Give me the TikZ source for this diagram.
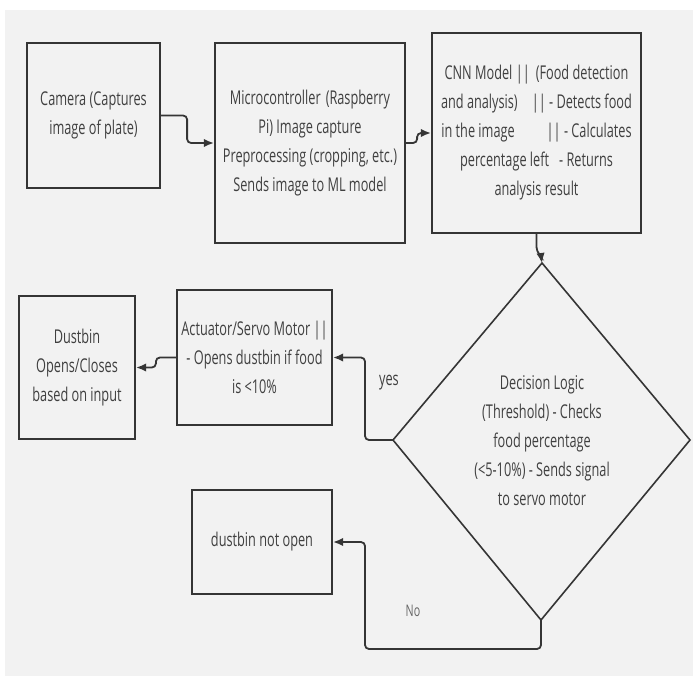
\documentclass[tikz,border=0pt]{standalone}
\usepackage{fontspec}
\setmainfont{Open Sans}[FakeStretch=0.67]
\usetikzlibrary{arrows.meta}
\definecolor{bgc}{HTML}{F2F2F2}
\definecolor{linec}{HTML}{353535}
\definecolor{txtc}{HTML}{404040}
\definecolor{lblc}{HTML}{666666}
\tikzset{
  box/.style={draw=linec, line width=2.2pt, fill=bgc, inner sep=0pt, align=center,
    text=txtc, font=\fontsize{19}{29}\selectfont},
  conn/.style={draw=linec, line width=1.8pt, rounded corners=4pt,
    -{Latex[length=10pt,width=8.5pt]}},
  lbl/.style={text=txtc, font=\fontsize{19}{29}\selectfont, inner sep=0pt},
  dtext/.style={text=txtc, font=\fontsize{19}{29}\selectfont, align=center, inner sep=0pt}
}
\begin{document}
\begin{tikzpicture}[x=1pt,y=-1pt]
\useasboundingbox (0,0) rectangle (693,678);
\fill[white] (0,0) rectangle (693,678);
\fill[bgc] (5,10) rectangle (693,676);

% boxes
\node[box, minimum width=133pt, minimum height=145pt] (cam) at (93.5,115.5)
  {Camera (Captures\\image of plate)};
\node[box, minimum width=190pt, minimum height=200pt] (mc) at (310,143)
  {Microcontroller\hspace{5pt}(Raspberry\\Pi) Image capture\hspace{44pt}\\Preprocessing (cropping, etc.)\\Sends image to ML model};
\node[box, minimum width=209pt, minimum height=200pt] (cnn) at (536.5,133)
  {CNN Model ||\hspace{6pt}(Food detection\\and analysis)\hspace{14pt}|| - Detects food\\in the image\hspace{32pt}|| - Calculates\\percentage left\hspace{10pt}- Returns\\analysis result};
\node[box, minimum width=155pt, minimum height=135pt] (act) at (254.5,357.5)
  {Actuator/Servo Motor ||\\- Opens dustbin if food\\is <10\%};
\node[box, minimum width=116pt, minimum height=143pt] (dust) at (77,367.5)
  {Dustbin\\Opens/Closes\\based on input};
\node[box, minimum width=140pt, minimum height=104pt] (no) at (262,542)
  {dustbin not open};

% decision diamond
\coordinate (dt) at (542,263);
\coordinate (dl) at (393,440);
\coordinate (dr) at (690,440);
\coordinate (db) at (541,620);
\draw[linec, line width=1.6pt, line join=miter] (dt) -- (dr) -- (db) -- (dl) -- cycle;
\node[dtext] (dec) at (542,441)
  {Decision Logic\\(Threshold) - Checks\\food percentage\\(<5-10\%) - Sends signal\\to servo motor};

% connectors
\draw[conn] (cam.east) -- ++(26,0) |- (mc.west);
\draw[conn] (mc.east) -- ++(11,0) |- (cnn.west);
\draw[conn] (cnn.south) -- ++(0,17) -- ++(4.5,5) -- (dt);
\draw[conn] (dl) -- ++(-28,0) |- (act.east);
\draw[conn] (act.west) -- ++(-20,0) |- (dust.east);
\draw[conn] (db) -- ++(0,29) -- ++(-176,0) |- (no.east);

% labels
\node[lbl] (yes) at (389,383) {yes};
\node[lbl, text=lblc, font=\fontsize{16}{20}\selectfont] (nolbl) at (413,611) {No};
\end{tikzpicture}
\end{document}
